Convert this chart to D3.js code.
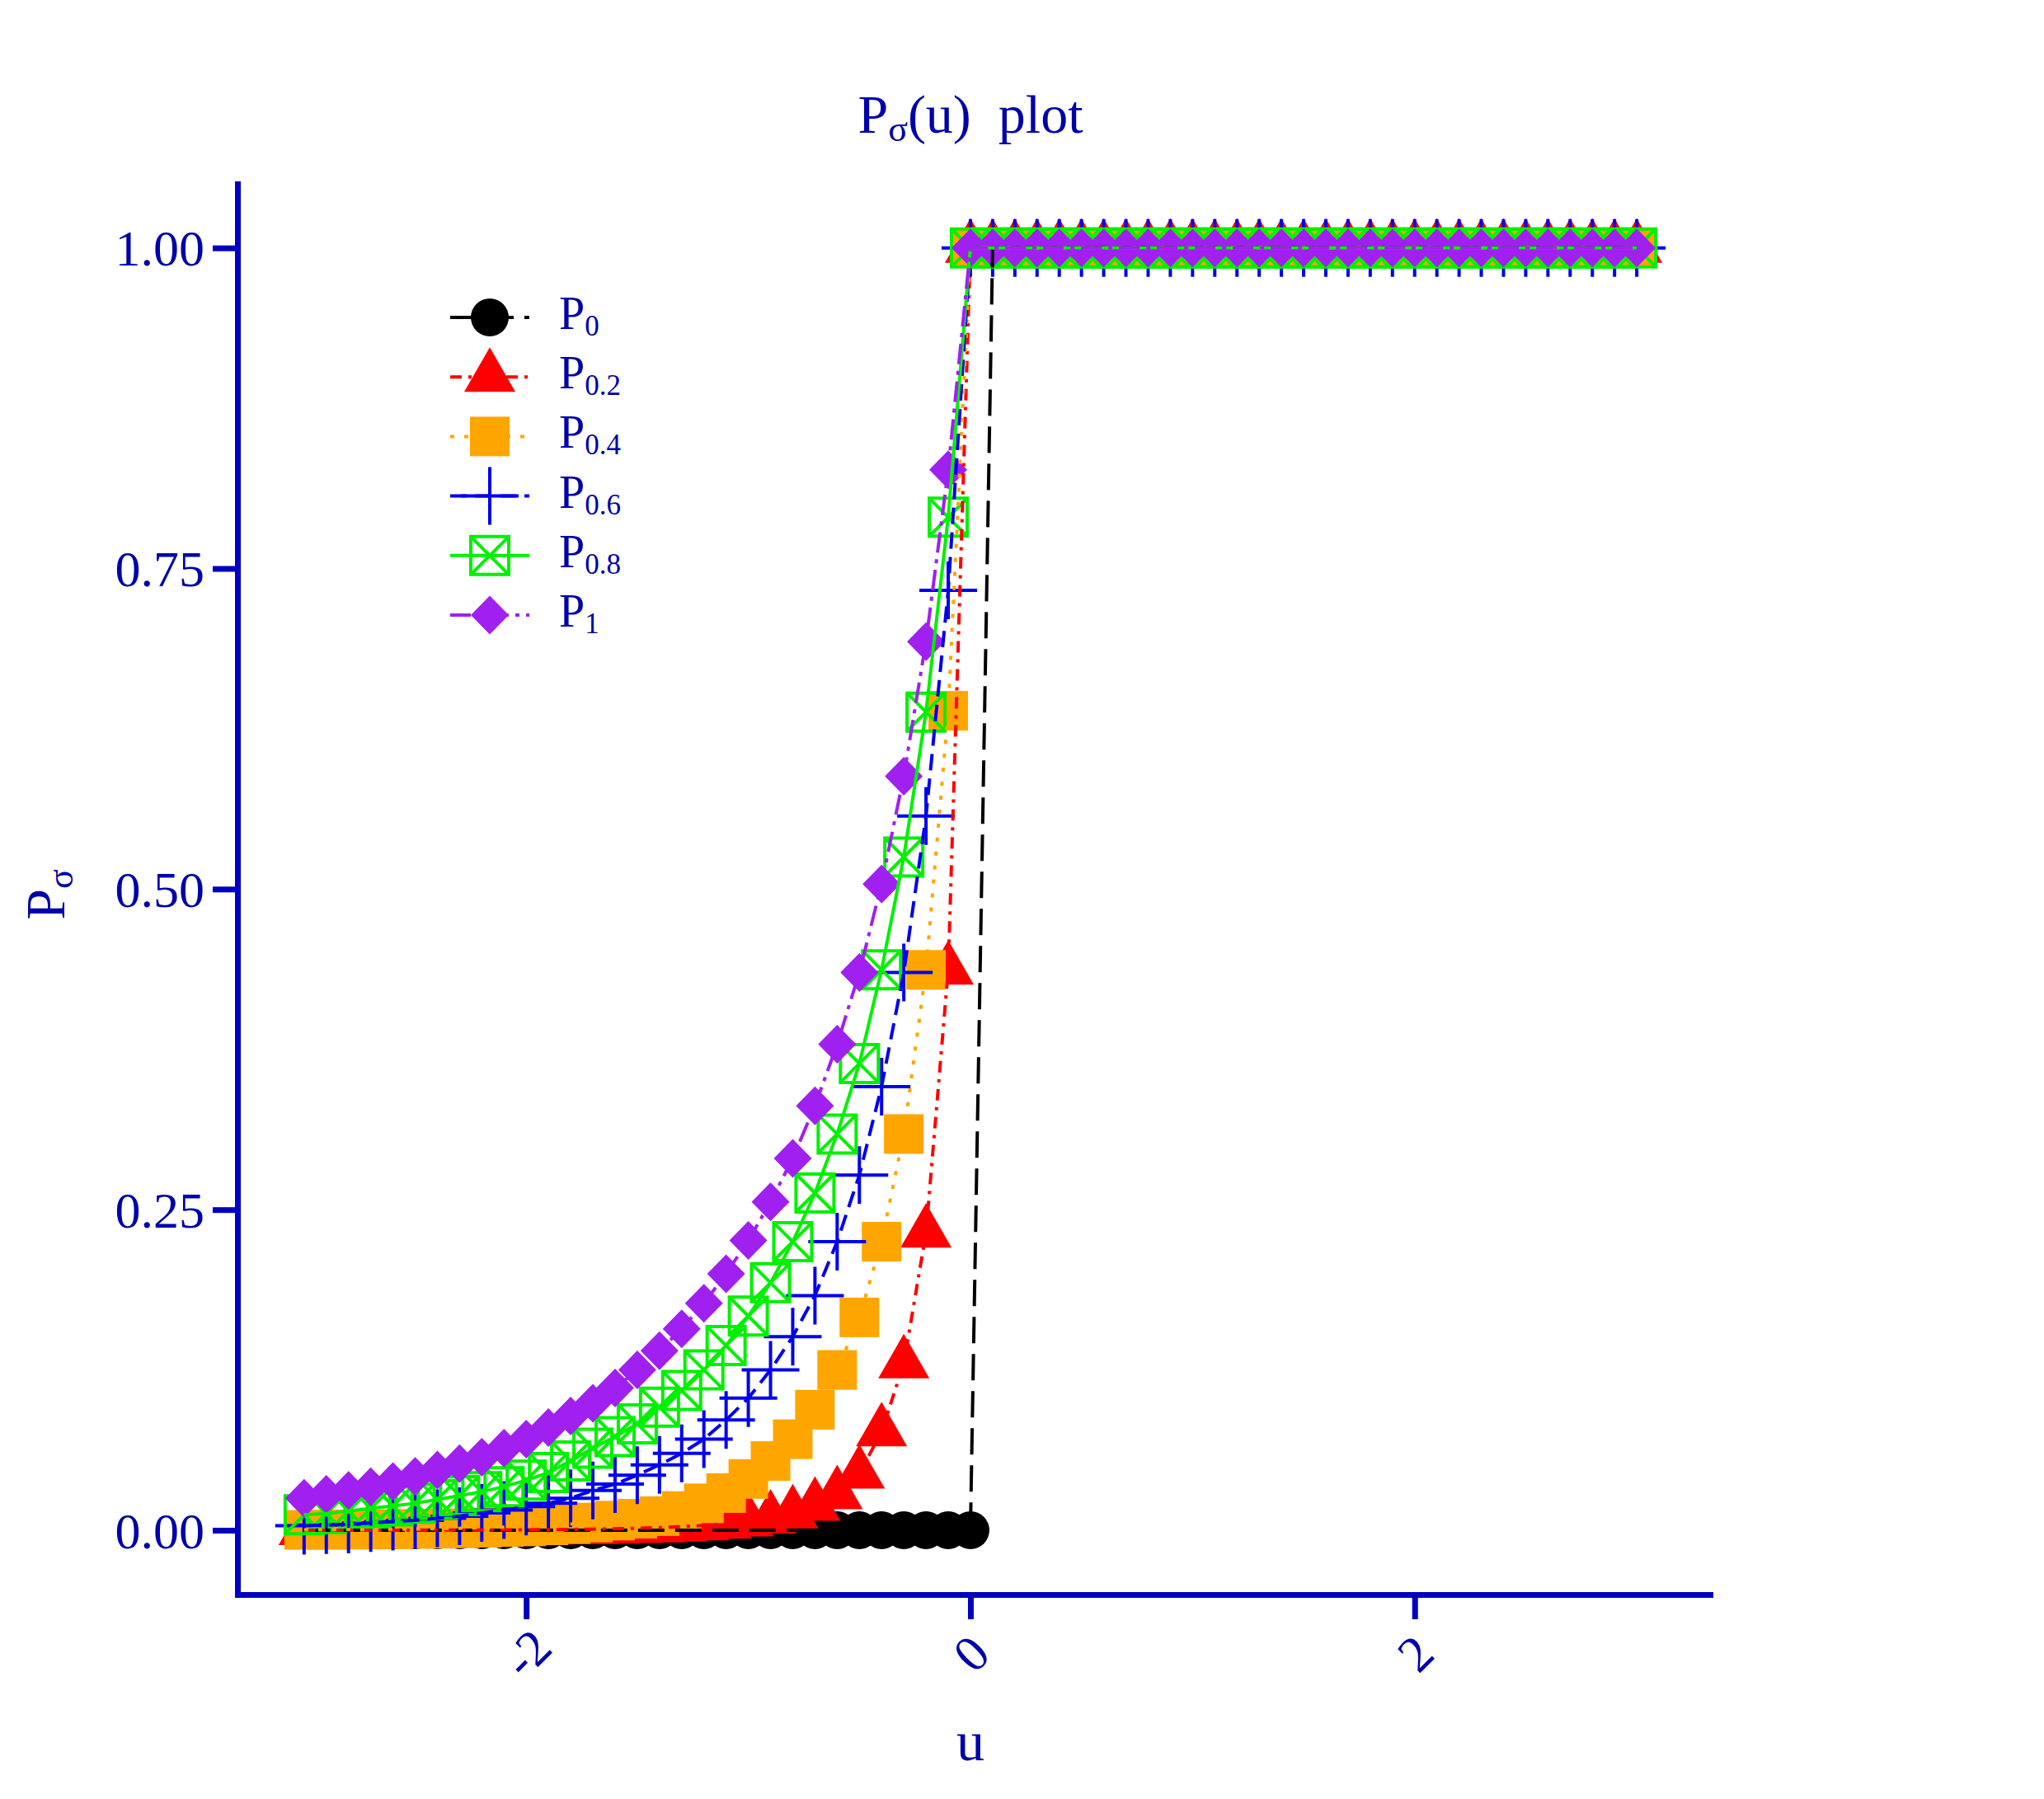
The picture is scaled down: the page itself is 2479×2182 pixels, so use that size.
<!DOCTYPE html>
<html><head><meta charset="utf-8">
<script src="https://cdn.jsdelivr.net/npm/d3@7"></script>
<style>html,body{margin:0;padding:0;background:#fff;} svg{display:block;}</style>
</head><body><svg id="chart" width="2479" height="2182"></svg>
<script>
// ---------------- data ----------------
const uValues = [-3,-2.9,-2.8,-2.7,-2.6,-2.5,-2.4,-2.3,-2.2,-2.1,-2,-1.9,-1.8,-1.7,-1.6,-1.5,-1.4,-1.3,-1.2,-1.1,-1,-0.9,-0.8,-0.7,-0.6,-0.5,-0.4,-0.3,-0.2,-0.1,0,
  0.1,0.2,0.3,0.4,0.5,0.6,0.7,0.8,0.9,1,1.1,1.2,1.3,1.4,1.5,1.6,1.7,1.8,1.9,2,2.1,2.2,2.3,2.4,2.5,2.6,2.7,2.8,2.9,3];

const p0 = [0,0,0,0,0,0,0,0,0,0,0,0,0,0,0,0,0,0,0,0,0,0,0,0,0,0,0,0,0,0,0,
  1,1,1,1,1,1,1,1,1,1,1,1,1,1,1,1,1,1,1,1,1,1,1,1,1,1,1,1,1,1];
const p02 = [0.00002,0.00003,0.00004,0.00005,0.00007,0.0001,0.00013,0.00017,0.00023,0.0003,0.0004,0.0005,0.0007,0.0009,0.0012,0.0016,0.0021,0.0028,0.0037,0.005,0.0067,0.009,0.013,0.019,0.028,0.044,0.077,0.130,0.232,0.437,1,
  1,1,1,1,1,1,1,1,1,1,1,1,1,1,1,1,1,1,1,1,1,1,1,1,1,1,1,1,1,1];
const p04 = [0.0003,0.0004,0.0005,0.0006,0.0008,0.001,0.0012,0.0015,0.002,0.0025,0.003,0.0038,0.0048,0.006,0.0075,0.009,0.011,0.015,0.021,0.029,0.040,0.054,0.071,0.094,0.125,0.166,0.225,0.309,0.437,0.639,1,
  1,1,1,1,1,1,1,1,1,1,1,1,1,1,1,1,1,1,1,1,1,1,1,1,1,1,1,1,1,1];
const p06 = [0.0035,0.004,0.0046,0.0057,0.0068,0.0078,0.0093,0.011,0.0136,0.0158,0.0185,0.021,0.025,0.031,0.036,0.043,0.051,0.060,0.071,0.086,0.103,0.125,0.151,0.183,0.225,0.277,0.346,0.435,0.557,0.733,1,
  1,1,1,1,1,1,1,1,1,1,1,1,1,1,1,1,1,1,1,1,1,1,1,1,1,1,1,1,1,1];
const p08 = [0.012,0.013,0.015,0.017,0.019,0.021,0.024,0.027,0.030,0.034,0.039,0.045,0.054,0.064,0.073,0.083,0.096,0.109,0.125,0.144,0.167,0.193,0.225,0.263,0.309,0.364,0.437,0.525,0.638,0.790,1,
  1,1,1,1,1,1,1,1,1,1,1,1,1,1,1,1,1,1,1,1,1,1,1,1,1,1,1,1,1,1];
const p1 = [0.025,0.028,0.031,0.034,0.038,0.042,0.047,0.052,0.057,0.064,0.071,0.080,0.089,0.099,0.111,0.125,0.140,0.157,0.177,0.200,0.226,0.256,0.290,0.331,0.379,0.435,0.504,0.588,0.693,0.827,1,
  1,1,1,1,1,1,1,1,1,1,1,1,1,1,1,1,1,1,1,1,1,1,1,1,1,1,1,1,1,1];

const seriesSubscripts = ["0","0.2","0.4","0.6","0.8","1"];
const yTicks = [0, 0.25, 0.5, 0.75, 1];
const xTicks = [-2, 0, 2];

// ---------------- styles ----------------
const seriesValues = [p0, p02, p04, p06, p08, p1];
const styles = [
  {color:"#000000", dash:"32,13",        shape:"circle"},
  {color:"#FF0000", dash:"14,8,4,8",     shape:"triangle"},
  {color:"#FFA500", dash:"5,12",         shape:"square"},
  {color:"#0000EE", dash:"20,10",        shape:"plus"},
  {color:"#00F000", dash:null,           shape:"boxx"},
  {color:"#A020F0", dash:"25,8,5,8",     shape:"diamond"}
];
const AXIS = "#0000BF", TEXT = "#0000AA";
const FONT = "'Liberation Serif','Times New Roman',serif";

const svg = d3.select("#chart");
svg.append("rect").attr("width",2479).attr("height",2182).attr("fill","#fff");

const x = d3.scaleLinear().domain([-3.3, 3.33]).range([288, 2074]);
const y = d3.scaleLinear().domain([-0.05, 1.05]).range([1933.8, 222.9]);

function drawMarker(g, shape, color) {
  switch (shape) {
    case "circle":
      g.append("circle").attr("r",23).attr("fill",color); break;
    case "triangle":
      g.append("path").attr("d","M0,-36L31,18L-31,18Z").attr("fill",color); break;
    case "square":
      g.append("rect").attr("x",-24).attr("y",-24).attr("width",48).attr("height",48).attr("fill",color); break;
    case "plus":
      g.append("path").attr("d","M-35,0H35M0,-35V35").attr("stroke",color).attr("stroke-width",4).attr("fill","none"); break;
    case "boxx":
      g.append("path").attr("d","M-23,-23H23V23H-23ZM-23,-23L23,23M23,-23L-23,23")
        .attr("stroke",color).attr("stroke-width",4).attr("fill","none"); break;
    case "diamond":
      g.append("path").attr("d","M0,-23.5L23,0L0,23.5L-23,0Z").attr("fill",color); break;
  }
}

// ---------------- axes ----------------
const yAxis = d3.axisLeft(y).tickValues(yTicks).tickFormat(d3.format(".2f"))
  .tickSize(30).tickSizeOuter(0).tickPadding(10);
const gy = svg.append("g").attr("transform","translate(288,0)").call(yAxis);
const xAxis = d3.axisBottom(x).tickValues(xTicks).tickFormat(d => String(d))
  .tickSize(30).tickSizeOuter(0);
const gx = svg.append("g").attr("transform","translate(0,1934)").call(xAxis);

[gy, gx].forEach(g => {
  g.select(".domain").attr("stroke",AXIS).attr("stroke-width",7).attr("stroke-linecap","square");
  g.selectAll(".tick line").attr("stroke",AXIS).attr("stroke-width",7);
  g.selectAll(".tick text").attr("fill",TEXT).style("font-family",FONT).style("font-size","62px");
});
gy.selectAll(".tick text").attr("dy","0.34em");
gx.selectAll(".tick text").attr("y",0).attr("dy","0.35em")
  .attr("text-anchor","middle").attr("transform","translate(0,71) rotate(-45)");

// ---------------- markers (all series) then lines ----------------
const plot = svg.append("g");
seriesValues.forEach((vals, si) => {
  const st = styles[si];
  const gs = plot.append("g");
  uValues.forEach((u, i) => {
    const g = gs.append("g").attr("transform",`translate(${x(u)},${y(vals[i])})`);
    drawMarker(g, st.shape, st.color);
  });
});
const line = d3.line().x(d => x(d[0])).y(d => y(d[1]));
seriesValues.forEach((vals, si) => {
  const st = styles[si];
  plot.append("path").datum(uValues.map((u,i)=>[u, vals[i]]))
    .attr("d", line).attr("fill","none").attr("stroke",st.color).attr("stroke-width",4)
    .attr("stroke-dasharray", st.dash);
});

// ---------------- legend ----------------
const legendY0 = 385, legendDY = 72.2;
seriesSubscripts.forEach((sub, si) => {
  const st = styles[si];
  const ly = legendY0 + si*legendDY;
  const lg = svg.append("g");
  lg.append("line").attr("x1",546).attr("x2",642).attr("y1",ly).attr("y2",ly)
    .attr("stroke",st.color).attr("stroke-width",4).attr("stroke-dasharray",st.dash);
  drawMarker(lg.append("g").attr("transform",`translate(594,${ly})`), st.shape, st.color);
  const t = lg.append("text").attr("x",678).attr("y",ly+14).attr("fill",TEXT)
    .style("font-family",FONT).style("font-size","56px");
  t.append("tspan").text("P");
  t.append("tspan").attr("dy",8).style("font-size","35px").text(sub);
});

// ---------------- titles ----------------
const title = svg.append("text").attr("x",1177).attr("y",161).attr("text-anchor","middle")
  .attr("fill",TEXT).style("font-family",FONT).style("font-size","66px").style("white-space","pre");
title.append("tspan").text("P");
title.append("tspan").attr("dy",10).style("font-size","44px").text("σ");
title.append("tspan").attr("dy",-10).text("(u)  plot");

svg.append("text").attr("x",1177).attr("y",2135).attr("text-anchor","middle")
  .attr("fill",TEXT).style("font-family",FONT).style("font-size","68px").text("u");

const yl = svg.append("text").attr("transform","translate(78,1085) rotate(-90)")
  .attr("text-anchor","middle").attr("fill",TEXT)
  .style("font-family",FONT).style("font-size","68px");
yl.append("tspan").text("P");
yl.append("tspan").attr("dy",10).style("font-size","44px").text("σ");
</script></body></html>
